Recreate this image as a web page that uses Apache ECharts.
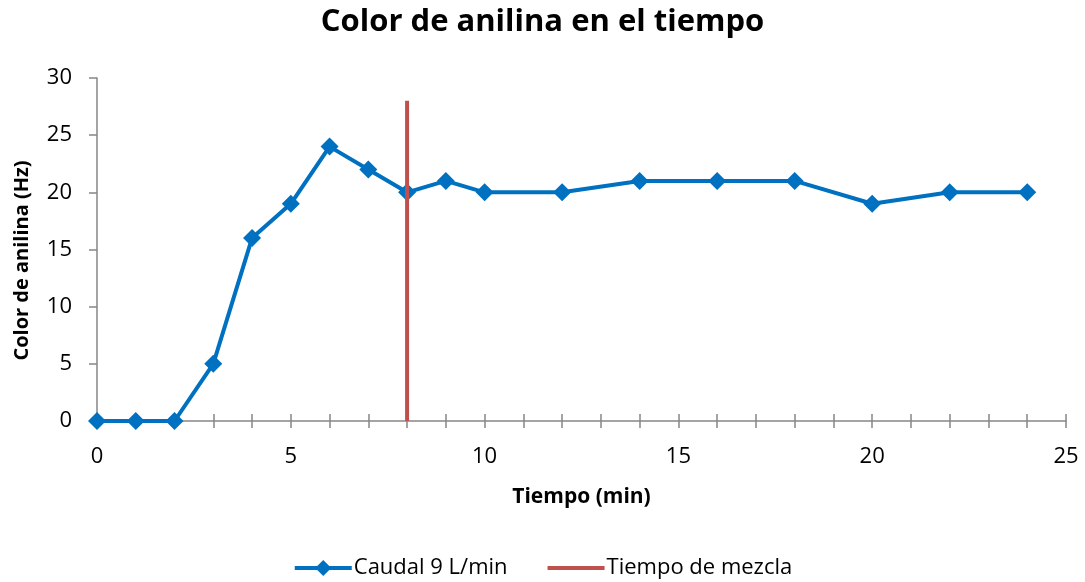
<!DOCTYPE html>
<html>
<head>
<meta charset="utf-8">
<script src="https://cdn.jsdelivr.net/npm/echarts@6/dist/echarts.min.js"></script>
<style>
  html, body { margin: 0; padding: 0; background: #fff; }
  #chart { width: 1085px; height: 582px; }
</style>
</head>
<body>
<div id="chart"></div>
<script>
// Time (min) and aniline colour reading (Hz)
var tiempo = [0, 1, 2, 3, 4, 5, 6, 7, 8, 9, 10, 12, 14, 16, 18, 20, 22, 24];
var color = [0, 0, 0, 5, 16, 19, 24, 22, 20, 21, 20, 20, 21, 21, 21, 19, 20, 20];
// Mixing time marker
var mezclaX = 8;
var mezclaY = [0, 28];

var FONT = '"Open Sans", "Liberation Sans", sans-serif';
var AXIS_GRAY = '#868686';

var chart = echarts.init(document.getElementById('chart'));

var caudal = tiempo.map(function (t, i) { return [t, color[i]]; });
var mezcla = mezclaY.map(function (y) { return [mezclaX, y]; });

var baseX = {
  type: 'value', min: 0, max: 25, interval: 5, position: 'bottom',
  splitLine: { show: false }
};

chart.setOption({
  animation: false,
  title: {
    text: 'Color de anilina en el tiempo',
    left: 'center', top: 2,
    textStyle: { fontFamily: FONT, fontSize: 31, fontWeight: 'bold', color: '#000' }
  },
  legend: {
    bottom: -2, left: 'center',
    itemWidth: 57, itemHeight: 20, itemGap: 38,
    lineStyle: { width: 4 },
    textStyle: { fontFamily: FONT, fontSize: 22, color: '#000', padding: [0, 0, 0, -3] },
    data: [
      { name: 'Caudal 9 L/min' },
      { name: 'Tiempo de mezcla', itemStyle: { opacity: 0 } }
    ]
  },
  grid: { left: 97, right: 19, top: 78, bottom: 161 },
  xAxis: [
    Object.assign({}, baseX, {
      name: 'Tiempo (min)', nameLocation: 'middle', nameGap: 66,
      nameTextStyle: { fontFamily: FONT, fontSize: 21, fontWeight: 'bold', color: '#000' },
      axisLine: { lineStyle: { color: AXIS_GRAY, width: 1.5 } },
      axisTick: { show: true, length: 7, lineStyle: { color: AXIS_GRAY, width: 1.5 } },
      minorTick: { show: true, splitNumber: 5, length: 7, lineStyle: { color: AXIS_GRAY, width: 1.5 } },
      axisLabel: { fontFamily: FONT, fontSize: 22, color: '#000', margin: 25 }
    }),
    Object.assign({}, baseX, {
      axisLine: { show: false },
      axisTick: { show: true, inside: true, length: 7, lineStyle: { color: AXIS_GRAY, width: 1.5 } },
      minorTick: { show: true, splitNumber: 5, length: 7, lineStyle: { color: AXIS_GRAY, width: 1.5 } },
      axisLabel: { show: false }
    })
  ],
  yAxis: {
    type: 'value', min: 0, max: 30, interval: 5,
    name: 'Color de anilina (Hz)', nameLocation: 'middle', nameGap: 65, nameRotate: 90,
    nameTextStyle: { fontFamily: FONT, fontSize: 20, fontWeight: 'bold', color: '#000', padding: [0, 22, 0, 0] },
    axisLine: { show: true, lineStyle: { color: AXIS_GRAY, width: 1.5 } },
    axisTick: { show: true, length: 8, lineStyle: { color: AXIS_GRAY, width: 1.5 } },
    splitLine: { show: false },
    axisLabel: { fontFamily: FONT, fontSize: 22, color: '#000', margin: 25 }
  },
  series: [
    {
      name: 'Caudal 9 L/min', type: 'line', data: caudal,
      symbol: 'diamond', symbolSize: 18,
      lineStyle: { color: '#0070C0', width: 4 },
      itemStyle: { color: '#0070C0' },
      z: 3
    },
    {
      name: 'Tiempo de mezcla', type: 'line', data: mezcla,
      symbol: 'none',
      lineStyle: { color: '#C0504D', width: 4 },
      itemStyle: { color: '#C0504D' },
      z: 4
    }
  ]
});
</script>
</body>
</html>
